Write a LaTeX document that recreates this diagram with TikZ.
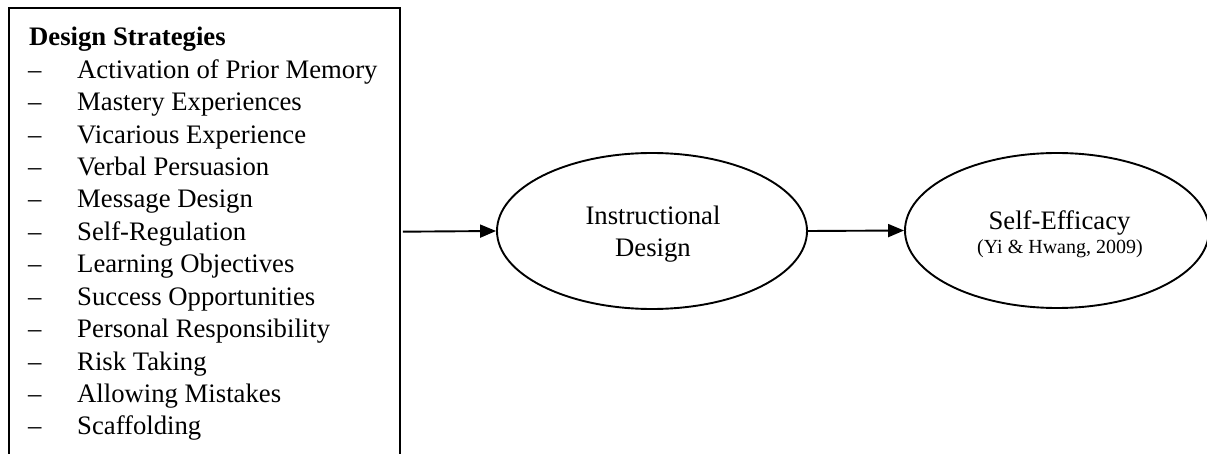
\documentclass[tikz,border=0pt]{standalone}
\usepackage{fontspec}
\setmainfont{Liberation Serif}
\usetikzlibrary{shapes.geometric,arrows.meta}
\begin{document}
\begin{tikzpicture}[x=1pt,y=-1pt,
  lw/.style={line width=1.9pt},
  itemtxt/.style={anchor=base west,inner sep=0pt,font=\fontsize{26.7}{32.4}\selectfont},
  dashtxt/.style={anchor=base west,inner sep=0pt,font=\fontsize{26.7}{32.4}\selectfont},
  ctxt/.style={anchor=base,inner sep=0pt,font=\fontsize{26.7}{32.4}\selectfont},
  smalltxt/.style={anchor=base,inner sep=0pt,font=\fontsize{20}{24}\selectfont},
  oval/.style={ellipse,draw,lw,inner sep=0pt},
  arr/.style={lw,-{Triangle[length=16pt,width=13pt]}}]
\useasboundingbox (0,0) rectangle (1207,454);
% box
\node[draw,lw,rectangle,minimum width=391pt,minimum height=447.5pt,inner sep=0pt,anchor=north west] (box) at (8,7) {};
\node[itemtxt,font=\fontsize{26.7}{32.4}\selectfont\bfseries] (title) at (29,46) {Design Strategies};
\foreach \t [count=\i] in {Activation of Prior Memory,Mastery Experiences,Vicarious Experience,Verbal Persuasion,Message Design,Self-Regulation,Learning Objectives,Success Opportunities,Personal Responsibility,Risk Taking,Allowing Mistakes,Scaffolding}{
  \node[dashtxt] (d\i) at (28,46+32.4*\i) {--};
  \node[itemtxt] (it\i) at (77,46+32.4*\i) {\t};
}
% ellipses
\node[oval,minimum width=310pt,minimum height=156pt] (id) at (652,231) {};
\node[ctxt] (id1) at (653,224.3) {Instructional};
\node[ctxt] (id2) at (653,256.7) {Design};
\node[oval,minimum width=304pt,minimum height=155pt] (se) at (1057,230.5) {};
\node[ctxt] (se1) at (1059.5,229.3) {Self-Efficacy};
\node[smalltxt] (se2) at (1060,253.3) {(Yi \& Hwang, 2009)};
% arrows
\draw[arr,shorten <=2pt] (box.east) -- (id.west);
\draw[arr] (id.east) -- (se.west);
\end{tikzpicture}
\end{document}
